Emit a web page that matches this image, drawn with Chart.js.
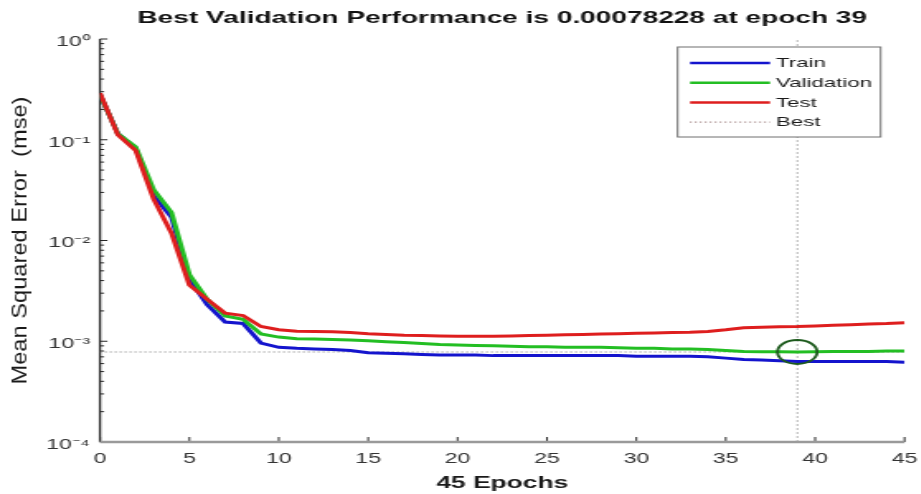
<!DOCTYPE html>
<html>
<head>
<meta charset="utf-8">
<script src="https://cdn.jsdelivr.net/npm/chart.js@4.4.1/dist/chart.umd.min.js"></script>
<style>
    html, body { margin: 0; padding: 0; background: #fff; overflow: hidden; }
    /* the reference picture is stretched sideways, so the canvas is too */
    #wrap { width: 562px; height: 494px; transform: scaleX(1.65); transform-origin: 0 0; }
</style>
</head>
<body>
<div id="wrap"><canvas id="perf" width="562" height="494"></canvas></div>
<script>
'use strict';

var FONT = '"Liberation Sans", Arial, Helvetica, sans-serif';

var epochs = [0, 1, 2, 3, 4, 5, 6, 7, 8, 9, 10, 11, 12, 13, 14, 15, 16, 17, 18, 19, 20, 21, 22,
    23, 24, 25, 26, 27, 28, 29, 30, 31, 32, 33, 34, 35, 36, 37, 38, 39, 40, 41, 42, 43, 44, 45];

var trainMse = [0.28, 0.115, 0.082, 0.028, 0.017, 0.0041, 0.0023, 0.00155, 0.0015, 0.00096,
    0.00087, 0.00085, 0.00084, 0.00083, 0.00081, 0.00077, 0.00076, 0.00075, 0.00074, 0.00073,
    0.00073, 0.00073, 0.00072, 0.00072, 0.00072, 0.00072, 0.00072, 0.00072, 0.00072, 0.00072,
    0.00071, 0.00071, 0.00071, 0.00071, 0.0007, 0.00068, 0.00066, 0.00065, 0.00064, 0.00063,
    0.00063, 0.00063, 0.00063, 0.00063, 0.00063, 0.00062];

var valMse = [0.28, 0.115, 0.085, 0.032, 0.019, 0.0046, 0.0026, 0.00178, 0.00165, 0.00118,
    0.0011, 0.00106, 0.00105, 0.00104, 0.00103, 0.00101, 0.00099, 0.00097, 0.00095, 0.00093,
    0.00092, 0.00091, 0.0009, 0.00089, 0.00088, 0.00088, 0.00087, 0.00087, 0.00087, 0.00086,
    0.00085, 0.00085, 0.00084, 0.00084, 0.00083, 0.00081, 0.00079, 0.000788, 0.000785, 0.00078228,
    0.000785, 0.00079, 0.00079, 0.00079, 0.0008, 0.0008];

var testMse = [0.29, 0.112, 0.078, 0.0257, 0.0118, 0.0036, 0.0026, 0.0019, 0.0018, 0.0014,
    0.0013, 0.00126, 0.00125, 0.00124, 0.00122, 0.00119, 0.00117, 0.00115, 0.00114, 0.00113,
    0.00112, 0.00112, 0.00112, 0.00113, 0.00114, 0.00115, 0.00116, 0.00117, 0.00118, 0.00119,
    0.0012, 0.00121, 0.00122, 0.00123, 0.00125, 0.0013, 0.00136, 0.00138, 0.00139, 0.0014,
    0.00142, 0.00144, 0.00146, 0.00148, 0.0015, 0.00153];

var bestEpoch = 39;
var bestPerf = 0.00078228;

var xTicks = [0, 5, 10, 15, 20, 25, 30, 35, 40, 45];
var yDecades = [1e-4, 1e-3, 1e-2, 1e-1, 1];
var yLabels = ['10\u207B\u2074', '10\u207B\u00B3', '10\u207B\u00B2', '10\u207B\u00B9', '10\u2070'];

var titleText = 'Best Validation Performance is ' + bestPerf + ' at epoch ' + bestEpoch;
var xTitle = epochs.length - 1 + ' Epochs';
var yTitle = 'Mean Squared Error  (mse)';

function points(ys) {
    return epochs.map(function(e, i) { return { x: e, y: ys[i] }; });
}

// MATLAB style inward ticks and axis lines
var matlabAxes = {
    id: 'matlabAxes',
    beforeDatasetsDraw: function(chart) {
        var ctx = chart.ctx;
        var a = chart.chartArea;
        var xs = chart.scales.x;
        var ys = chart.scales.y;
        ctx.save();
        ctx.strokeStyle = '#262626';
        ctx.lineWidth = 1;
        ys.ticks.forEach(function(t) {
            var y = ys.getPixelForValue(t.value);
            var len = yDecades.indexOf(t.value) >= 0 ? 4.5 : 2.5;
            ctx.beginPath();
            ctx.moveTo(a.left, y);
            ctx.lineTo(a.left + len, y);
            ctx.stroke();
        });
        xs.ticks.forEach(function(t) {
            var x = xs.getPixelForValue(t.value);
            ctx.beginPath();
            ctx.moveTo(x, a.bottom);
            ctx.lineTo(x, a.bottom - 5);
            ctx.stroke();
        });
        ctx.lineWidth = 1.3;
        ctx.beginPath();
        ctx.moveTo(a.left, a.top);
        ctx.lineTo(a.left, a.bottom);
        ctx.stroke();
        ctx.strokeStyle = '#9a9a9a';
        ctx.lineWidth = 2.5;
        ctx.beginPath();
        ctx.moveTo(a.left, a.bottom);
        ctx.lineTo(a.right, a.bottom);
        ctx.stroke();
        ctx.restore();
    },
    afterDraw: function(chart) {
        var ctx = chart.ctx;
        var a = chart.chartArea;

        // y axis title, drawn by hand to stretch it along the axis
        ctx.save();
        ctx.translate(12.5, (a.top + a.bottom) / 2);
        ctx.rotate(-Math.PI / 2);
        ctx.font = '12.5px ' + FONT;
        var w = ctx.measureText(yTitle).width;
        ctx.scale(288 / w, 1);
        ctx.textAlign = 'center';
        ctx.textBaseline = 'middle';
        ctx.fillStyle = '#1a1a1a';
        ctx.fillText(yTitle, 0, 0);
        ctx.restore();

        // legend box in the top right corner
        var right = a.right - 14.5;
        var left = right - 123;
        var top = 47;
        var bottom = 137;
        ctx.save();
        ctx.fillStyle = '#fff';
        ctx.fillRect(left, top, right - left, bottom - top);
        ctx.strokeStyle = '#6e6e6e';
        ctx.lineWidth = 1;
        ctx.strokeRect(left, top, right - left, bottom - top);
        ctx.font = '13.5px ' + FONT;
        ctx.textBaseline = 'middle';
        ctx.fillStyle = '#1a1a1a';
        var items = chart.data.datasets.filter(function(d) { return d.inLegend; });
        items.forEach(function(d, i) {
            var y = top + 16 + i * 19.7;
            ctx.strokeStyle = d.legendColor || d.borderColor;
            ctx.lineWidth = d.borderDash ? 1.2 : 2.5;
            ctx.setLineDash(d.borderDash ? [1, 2] : []);
            ctx.beginPath();
            ctx.moveTo(left + 7.5, y);
            ctx.lineTo(left + 56, y);
            ctx.stroke();
            ctx.setLineDash([]);
            ctx.fillText(d.label, left + 59.5, y + 0.5);
        });
        ctx.restore();
    }
};

var ctx = document.getElementById('perf').getContext('2d');

new Chart(ctx, {
    type: 'line',
    data: {
        datasets: [
            {
                label: 'Train',
                data: points(trainMse),
                borderColor: 'rgb(20, 20, 205)',
                borderWidth: 3,
                pointRadius: 0,
                tension: 0,
                order: 3,
                inLegend: true
            },
            {
                label: 'Validation',
                data: points(valMse),
                borderColor: 'rgb(35, 190, 35)',
                borderWidth: 3,
                pointRadius: 0,
                tension: 0,
                order: 2,
                inLegend: true
            },
            {
                label: 'Test',
                data: points(testMse),
                borderColor: 'rgb(222, 30, 30)',
                borderWidth: 3,
                pointRadius: 0,
                tension: 0,
                order: 1,
                inLegend: true
            },
            {
                label: 'Best',
                data: [{ x: epochs[0], y: bestPerf }, { x: epochs[epochs.length - 1], y: bestPerf }],
                borderColor: '#777',
                legendColor: '#a08080',
                borderWidth: 1,
                borderDash: [1, 2],
                pointRadius: 0,
                order: 5,
                inLegend: true
            },
            {
                label: 'Best epoch',
                data: [{ x: bestEpoch, y: yDecades[0] }, { x: bestEpoch, y: yDecades[yDecades.length - 1] }],
                borderColor: '#a0a0a0',
                borderWidth: 0.8,
                borderDash: [2, 2],
                pointRadius: 0,
                order: 5
            },
            {
                label: 'Best point',
                data: [{ x: bestEpoch, y: bestPerf }],
                showLine: false,
                pointRadius: 12,
                pointStyle: 'circle',
                pointBorderColor: '#1d5a1d',
                pointBackgroundColor: 'rgba(0,0,0,0)',
                pointBorderWidth: 1.8,
                order: 0
            }
        ]
    },
    options: {
        responsive: false,
        animation: false,
        devicePixelRatio: 1,
        layout: { padding: { left: 0, right: 7, top: 0, bottom: 0 } },
        plugins: {
            legend: { display: false },
            tooltip: { enabled: false },
            title: {
                display: true,
                text: titleText,
                fullSize: false,
                color: '#111',
                font: { family: FONT, size: 17, weight: 'bold' },
                padding: { top: 8, bottom: 10.6 }
            }
        },
        scales: {
            x: {
                type: 'linear',
                min: xTicks[0],
                max: xTicks[xTicks.length - 1],
                grid: { display: false, drawTicks: false },
                border: { display: false },
                afterBuildTicks: function(scale) {
                    scale.ticks = xTicks.map(function(v) { return { value: v }; });
                },
                afterFit: function(scale) {
                    scale.height = 52;
                    scale.paddingLeft = 0;
                    scale.paddingRight = 0;
                },
                ticks: {
                    autoSkip: false,
                    maxRotation: 0,
                    padding: 9,
                    color: '#333',
                    font: { family: FONT, size: 14 }
                },
                title: {
                    display: true,
                    text: xTitle,
                    color: '#1a1a1a',
                    font: { family: FONT, size: 16, weight: 'bold' },
                    padding: { top: 0, bottom: 0.5 }
                }
            },
            y: {
                type: 'logarithmic',
                min: yDecades[0],
                max: yDecades[yDecades.length - 1],
                grid: { display: false, drawTicks: false },
                border: { display: false },
                afterBuildTicks: function(scale) {
                    var ticks = [];
                    for (var i = 0; i < yDecades.length - 1; i++) {
                        for (var m = 1; m < 10; m++) {
                            ticks.push({ value: m === 1 ? yDecades[i] : m * yDecades[i] });
                        }
                    }
                    ticks.push({ value: yDecades[yDecades.length - 1] });
                    scale.ticks = ticks;
                },
                afterFit: function(scale) {
                    scale.width = 60.6;
                    scale.paddingTop = 0;
                    scale.paddingBottom = 0;
                },
                ticks: {
                    autoSkip: false,
                    padding: 6,
                    labelOffset: 3,
                    color: '#333',
                    font: { family: FONT, size: 14 },
                    callback: function(value) {
                        var i = yDecades.indexOf(value);
                        return i >= 0 ? yLabels[i] : '';
                    }
                }
            }
        }
    },
    plugins: [matlabAxes]
});
</script>
</body>
</html>
